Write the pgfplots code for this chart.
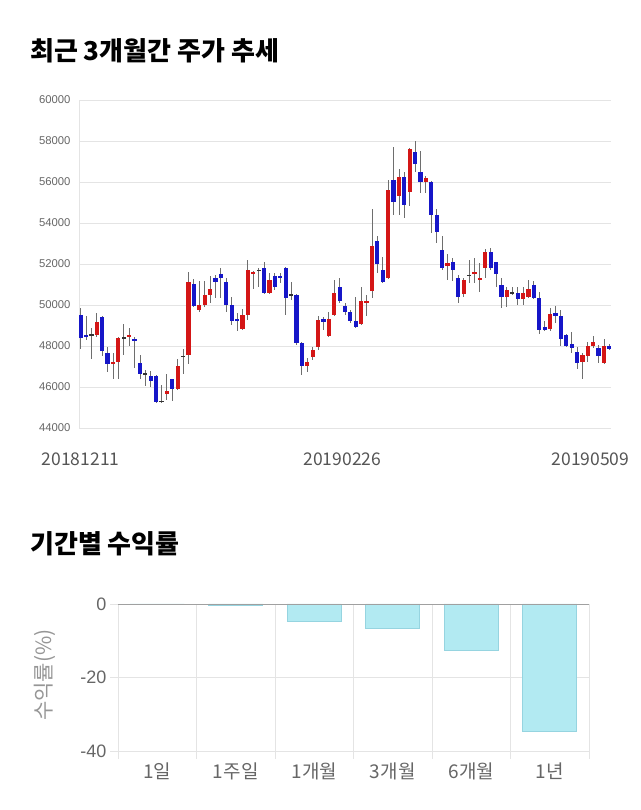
\documentclass[border=0pt]{standalone}
\usepackage{pgfplots}
\pgfplotsset{compat=1.18}
\usepackage{pgfplotstable}
\usepackage{fontspec}
\setmainfont{Liberation Sans}
\newfontfamily\kr{Noto Sans CJK KR}
\definecolor{upred}{RGB}{212,22,22}
\definecolor{dnblue}{RGB}{22,22,200}
\definecolor{wick}{RGB}{110,110,110}
\definecolor{gridc}{RGB}{228,228,228}
\definecolor{tickc}{RGB}{102,102,102}
\definecolor{datec}{RGB}{85,85,85}
\definecolor{barc}{RGB}{178,234,242}
\definecolor{barb}{RGB}{150,212,224}
\definecolor{zeroc}{RGB}{160,160,160}
\definecolor{ylabc}{RGB}{150,150,150}

\pgfplotstableread{
i o h l c
0 49500 49850 47850 48400
1 48550 49450 48300 48450
2 48550 48900 47350 48550
3 48550 49600 48450 49150
4 49400 49450 47500 47750
5 47650 47950 46750 47100
6 47100 47650 46400 47200
7 47200 48450 46400 48400
8 48400 49050 47550 48400
9 48450 48900 48000 48550
10 48350 48450 46950 48250
11 47150 47550 46400 46650
12 46650 46850 46050 46650
13 46550 46800 46000 46300
14 46550 46600 45200 45250
15 45300 46100 45200 45300
16 45650 46650 45350 45800
17 46400 46400 45300 45900
18 45900 47350 45850 47000
19 47500 47850 46650 47500
20 47550 51600 47100 51100
21 51000 51250 49900 49950
22 49750 51150 49650 50000
23 50000 51150 49900 50500
24 50500 51400 50100 50800
25 51300 51450 50350 51100
26 51500 51800 50350 51300
27 51100 51300 49650 50000
28 50000 50400 49000 49200
29 49300 49600 48750 49200
30 48850 49800 48800 49500
31 49500 52200 49250 51700
32 51500 51650 50800 51600
33 51700 51800 50900 51700
34 51800 52100 50550 50600
35 50600 51550 50550 51200
36 51400 51550 50750 50900
37 51400 51550 51050 51300
38 51800 51850 49500 50350
39 50500 51100 50250 50500
40 50500 50550 48050 48150
41 48150 48200 46600 47000
42 47000 47400 46750 47200
43 47450 47950 47300 47800
44 47950 49450 47800 49250
45 49300 49400 48800 49150
46 48500 49650 48450 49300
47 49500 51200 49450 50600
48 50900 51300 50100 50200
49 49950 50100 49500 49650
50 49650 49750 49100 49200
51 49200 50400 48900 48950
52 49050 50900 49000 50200
53 50100 50500 49450 50200
54 50700 54700 50350 52900
55 53100 53350 51550 52000
56 51700 52350 51050 51100
57 51300 56100 51250 55600
58 56100 57700 54400 55000
59 55300 56650 54400 56250
60 56250 56500 54250 54900
61 55500 57650 54850 57600
62 57450 58000 56500 56900
63 56500 57500 55450 56000
64 56000 56300 55450 56200
65 56000 56050 53500 54400
66 54400 54700 53000 53550
67 52700 53350 51700 51800
68 51900 52500 51200 52050
69 52100 52300 51150 51700
70 51300 51450 50100 50400
71 50550 51300 50400 51200
72 51450 52200 51050 51450
73 51500 52300 51050 51600
74 51200 52050 50650 51300
75 51800 52750 51300 52600
76 52600 52800 51700 51800
77 52100 52100 50900 51500
78 51000 51300 49850 50400
79 50400 50900 49900 50750
80 50600 50900 50500 50600
81 50600 50900 50000 50300
82 50300 50900 50000 50600
83 50400 51200 50350 50800
84 51000 51150 50300 50350
85 50350 50650 48600 48800
86 48950 49200 48750 48800
87 48850 49850 48750 49550
88 49600 49950 49100 49450
89 49450 49750 48000 48350
90 48550 48600 47950 48000
91 48100 48700 47650 47900
92 47700 47950 46900 47150
93 47200 47650 46400 47550
94 47500 48200 47200 48000
95 48000 48500 47900 48200
96 47900 48050 47150 47500
97 47150 48350 47100 48000
98 48000 48100 47800 47850
}\candles

\pgfplotstableread{
x r
0 0
1 -0.27
2 -4.8
3 -6.5
4 -12.7
5 -34.6
}\returns

\begin{document}
\begin{tikzpicture}[x=1pt,y=1pt]
\path[use as bounding box] (0,0) rectangle (640,810);

\node[anchor=base west, inner sep=0, font=\kr\bfseries\fontsize{26}{30}\selectfont] at (30,749) {최근 3개월간 주가 추세};
\node[anchor=base west, inner sep=0, font=\kr\bfseries\fontsize{26}{30}\selectfont] at (30,256) {기간별 수익률};

\begin{axis}[
  at={(79pt,710pt)}, anchor=north west,
  scale only axis, width=532pt, height=328pt,
  xmin=-0.3, xmax=98.3, ymin=44000, ymax=60000,
  ytick={44000,46000,...,60000},
  scaled y ticks=false,
  xtick={0,48.5,94.5},
  xticklabels={20181211,20190226,20190509},
  major tick length=0pt,
  ymajorgrids, grid style={draw=gridc, line width=0.7pt},
  axis x line*=bottom, axis y line*=left,
  x axis line style={draw=none}, y axis line style={draw=gridc, line width=0.7pt},
  yticklabel style={font=\fontsize{11.3}{13}\selectfont, text=tickc, xshift=-5pt},
  xticklabel style={font=\kr\fontsize{17.5}{20}\selectfont, text=datec, yshift=-21pt},
  /pgf/number format/1000 sep={},
  /pgf/number format/assume math mode=true,
]
% wicks
\addplot[draw=none, mark=none, forget plot,
  error bars/.cd, y dir=both, y explicit, error mark=none,
  error bar style={draw=wick, line width=0.9pt}]
  table[x=i, y expr={(\thisrow{h}+\thisrow{l})/2}, y error expr={(\thisrow{h}-\thisrow{l})/2}] {\candles};
% up bodies
\addplot[draw=none, mark=none, forget plot,
  restrict expr to domain={\thisrow{c}-\thisrow{o}}{1:100000},
  error bars/.cd, y dir=both, y explicit, error mark=none,
  error bar style={draw=upred, line width=4.2pt}]
  table[x=i, y expr={(\thisrow{o}+\thisrow{c})/2}, y error expr={max(abs(\thisrow{o}-\thisrow{c})/2,30)}] {\candles};
% down bodies
\addplot[draw=none, mark=none, forget plot,
  restrict expr to domain={\thisrow{o}-\thisrow{c}}{1:100000},
  error bars/.cd, y dir=both, y explicit, error mark=none,
  error bar style={draw=dnblue, line width=4.2pt}]
  table[x=i, y expr={(\thisrow{o}+\thisrow{c})/2}, y error expr={max(abs(\thisrow{o}-\thisrow{c})/2,30)}] {\candles};
% doji
\addplot[draw=none, mark=none, forget plot,
  restrict expr to domain={\thisrow{c}-\thisrow{o}}{-1:1},
  error bars/.cd, y dir=both, y explicit, error mark=none,
  error bar style={draw=black!80, line width=4.2pt}]
  table[x=i, y=c, y error expr={30}] {\candles};
\end{axis}

\node[rotate=90, font=\kr\fontsize{21}{24}\selectfont, text=ylabc] at (45,135) {수익률(\%)};

\begin{axis}[
  at={(118pt,206pt)}, anchor=north west,
  scale only axis, width=471pt, height=147pt,
  xmin=-0.5, xmax=5.5, ymin=-40, ymax=0,
  ytick={-40,-20,0},
  xtick={0,1,2,3,4,5},
  xticklabels={1일,1주일,1개월,3개월,6개월,1년},
  minor xtick={-0.5,0.5,1.5,2.5,3.5,4.5,5.5},
  xminorgrids, ymajorgrids,
  grid style={draw=gridc, line width=0.7pt},
  minor grid style={draw=gridc, line width=0.7pt},
  axis line style={draw=none},
  tick align=outside, xtick pos=bottom, ytick pos=left,
  major tick length=8pt, minor tick length=8pt,
  major x tick style={draw=none},
  minor x tick style={draw=gridc, line width=0.7pt},
  ytick style={draw=gridc, line width=0.7pt},
  yticklabel style={font=\fontsize{18}{20}\selectfont, text=tickc},
  xticklabel style={font=\kr\fontsize{19}{22}\selectfont, text=tickc},
  /pgf/number format/assume math mode=true,
]
\addplot[ybar, bar width=0.69, fill=barc, draw=barb, line width=0.7pt] table[x=x, y=r] {\returns};
\draw[zeroc, line width=0.8pt] (axis cs:-0.5,0) -- (axis cs:5.5,0);
\end{axis}
\end{tikzpicture}
\end{document}
